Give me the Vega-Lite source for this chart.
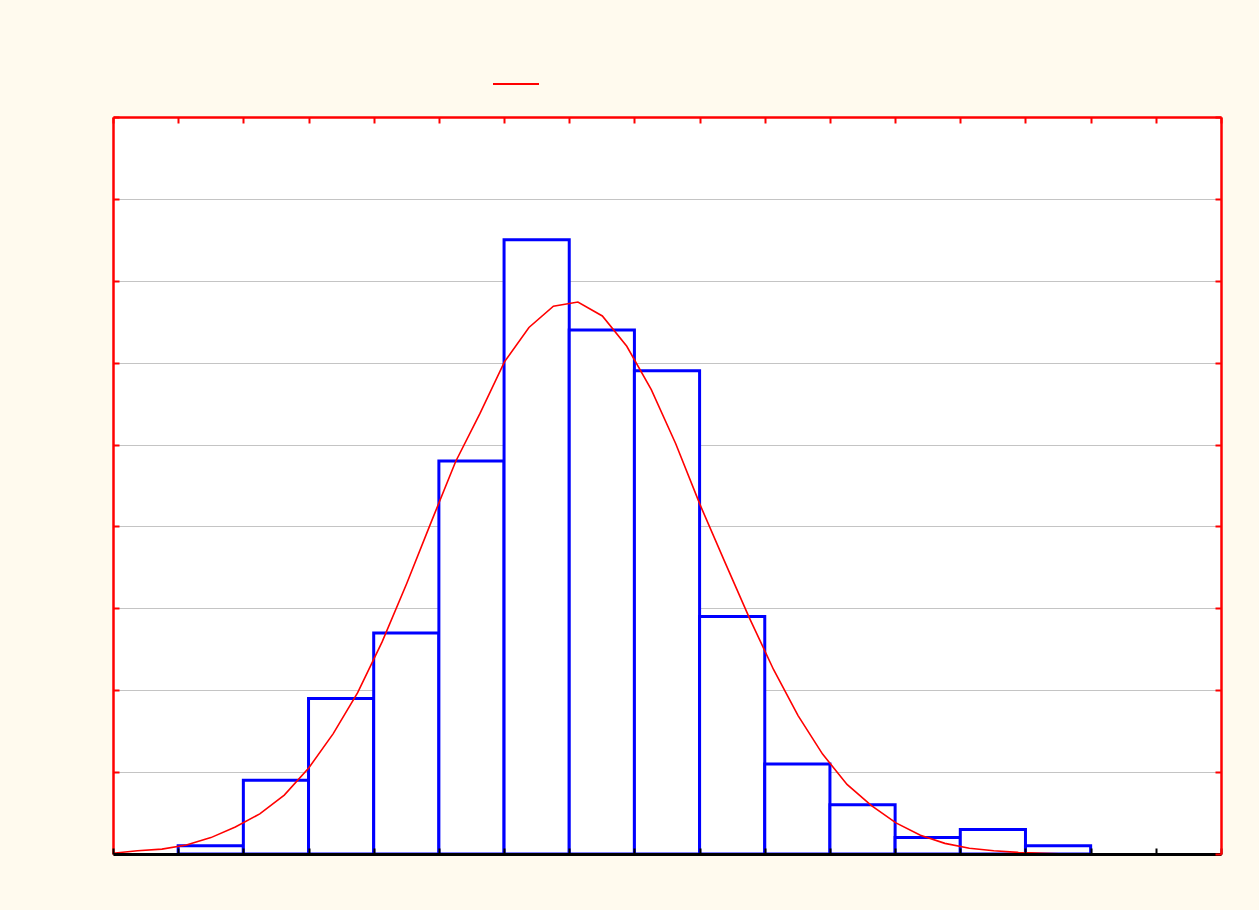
{
  "$schema": "https://vega.github.io/schema/vega-lite/v6.json",
  "width": 1108,
  "height": 737,
  "autosize": {"type": "none"},
  "padding": {"left": 113, "top": 117, "right": 38, "bottom": 56},
  "background": "#fffaee",
  "config": {
    "view": {"fill": "#ffffff", "stroke": null},
    "axis": {"labels": false, "title": null, "grid": false}
  },
  "datasets": {
    "bins": [
      {"start": 1, "end": 2, "count": 0.1},
      {"start": 2, "end": 3, "count": 0.9},
      {"start": 3, "end": 4, "count": 1.9},
      {"start": 4, "end": 5, "count": 2.7},
      {"start": 5, "end": 6, "count": 4.8},
      {"start": 6, "end": 7, "count": 7.5},
      {"start": 7, "end": 8, "count": 6.4},
      {"start": 8, "end": 9, "count": 5.9},
      {"start": 9, "end": 10, "count": 2.9},
      {"start": 10, "end": 11, "count": 1.1},
      {"start": 11, "end": 12, "count": 0.6},
      {"start": 12, "end": 13, "count": 0.2},
      {"start": 13, "end": 14, "count": 0.3},
      {"start": 14, "end": 15, "count": 0.1}
    ],
    "curve": [
      {"x": 0, "y": 0.01}, {"x": 0.375, "y": 0.04}, {"x": 0.751, "y": 0.06},
      {"x": 1.126, "y": 0.11}, {"x": 1.502, "y": 0.2}, {"x": 1.877, "y": 0.33},
      {"x": 2.252, "y": 0.49}, {"x": 2.628, "y": 0.72}, {"x": 3.003, "y": 1.05},
      {"x": 3.379, "y": 1.47}, {"x": 3.754, "y": 1.97}, {"x": 4.129, "y": 2.59},
      {"x": 4.505, "y": 3.3}, {"x": 4.88, "y": 4.05}, {"x": 5.256, "y": 4.79},
      {"x": 5.631, "y": 5.38}, {"x": 6.006, "y": 6.01}, {"x": 6.382, "y": 6.43},
      {"x": 6.757, "y": 6.69}, {"x": 7.133, "y": 6.74}, {"x": 7.508, "y": 6.57},
      {"x": 7.883, "y": 6.2}, {"x": 8.259, "y": 5.67}, {"x": 8.634, "y": 5.01},
      {"x": 9.01, "y": 4.26}, {"x": 9.385, "y": 3.57}, {"x": 9.76, "y": 2.89},
      {"x": 10.136, "y": 2.25}, {"x": 10.511, "y": 1.69}, {"x": 10.887, "y": 1.22},
      {"x": 11.262, "y": 0.85}, {"x": 11.637, "y": 0.59}, {"x": 12.013, "y": 0.38},
      {"x": 12.388, "y": 0.23}, {"x": 12.764, "y": 0.13}, {"x": 13.139, "y": 0.07},
      {"x": 13.514, "y": 0.04}, {"x": 13.89, "y": 0.02}, {"x": 14.265, "y": 0.01},
      {"x": 14.641, "y": 0}, {"x": 15.016, "y": 0}, {"x": 15.391, "y": 0},
      {"x": 15.767, "y": 0}, {"x": 16.142, "y": 0}, {"x": 16.518, "y": 0},
      {"x": 16.893, "y": 0}
    ]
  },
  "layer": [
    {
      "data": {"name": "bins"},
      "mark": {"type": "rect", "fill": "#ffffff", "stroke": "#0000ff", "strokeWidth": 3},
      "encoding": {
        "x": {
          "field": "start", "type": "quantitative",
          "scale": {"domain": [0, 17], "nice": false, "zero": false},
          "axis": {
            "orient": "bottom", "values": [0,1,2,3,4,5,6,7,8,9,10,11,12,13,14,15,16,17],
            "domainColor": "#000000", "domainWidth": 3, "tickColor": "#000000",
            "tickWidth": 2, "tickSize": -6, "zindex": 1
          }
        },
        "x2": {"field": "end"},
        "y": {
          "field": "count", "type": "quantitative",
          "scale": {"domain": [0, 9], "nice": false, "zero": true},
          "axis": {
            "orient": "left", "values": [0,1,2,3,4,5,6,7,8,9],
            "grid": true, "gridColor": "#c4c4c4", "gridWidth": 1,
            "domainColor": "#ff0000", "domainWidth": 2.5, "tickColor": "#ff0000",
            "tickWidth": 2, "tickSize": -6
          }
        },
        "y2": {"datum": 0}
      }
    },
    {
      "data": {"name": "curve"},
      "mark": {"type": "line", "strokeWidth": 1.6, "interpolate": "linear"},
      "encoding": {
        "x": {
          "field": "x", "type": "quantitative",
          "axis": {
            "orient": "top", "values": [0,1,2,3,4,5,6,7,8,9,10,11,12,13,14,15,16,17],
            "domainColor": "#ff0000", "domainWidth": 2.5, "tickColor": "#ff0000",
            "tickWidth": 2, "tickSize": -6, "zindex": 1
          }
        },
        "y": {
          "field": "y", "type": "quantitative",
          "axis": {
            "orient": "right", "values": [0,1,2,3,4,5,6,7,8,9],
            "domainColor": "#ff0000", "domainWidth": 2.5, "tickColor": "#ff0000",
            "tickWidth": 2, "tickSize": -6, "zindex": 1
          }
        },
        "stroke": {
          "datum": "normal",
          "scale": {"range": ["#ff0000"]},
          "legend": {
            "orient": "none", "legendX": 379, "legendY": -57,
            "symbolType": "stroke", "symbolSize": 2116, "symbolStrokeWidth": 2,
            "labelExpr": "''", "labelFontSize": 1, "padding": 0, "title": null,
            "symbolOffset": 0, "labelOffset": 0
          }
        }
      }
    }
  ],
  "resolve": {"axis": {"x": "independent", "y": "independent"}}
}
